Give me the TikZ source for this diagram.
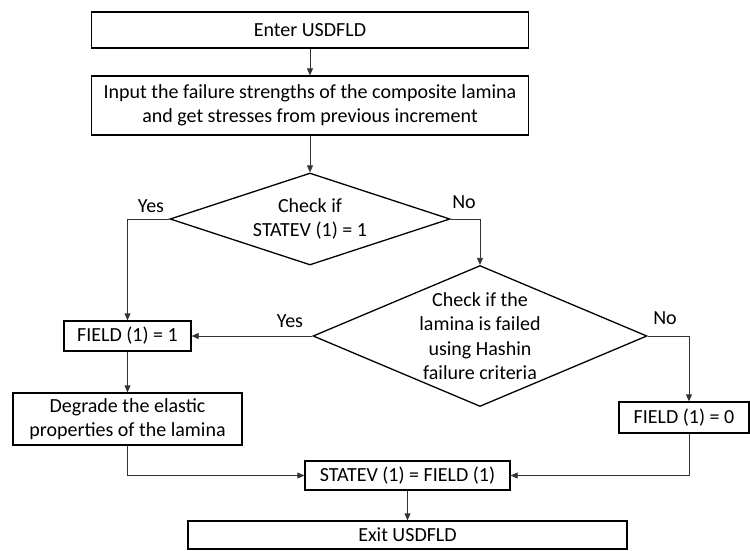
\documentclass[tikz,border=0pt]{standalone}
\usepackage{fontspec}
\setmainfont{Carlito}
\usetikzlibrary{shapes.geometric,arrows.meta}
\begin{document}
\begin{tikzpicture}[x=1pt,y=-1pt,
  txt/.style={font=\fontsize{20}{24.4}\selectfont, align=center},
  box/.style={draw, line width=1.3pt, rectangle, inner sep=0pt, txt},
  decision/.style={draw, line width=1.3pt, diamond, inner sep=0pt},
  arr/.style={draw=black!80, line width=0.8pt, -{Triangle[length=7pt,width=6pt]}},
  lnk/.style={draw=black!80, line width=0.8pt},
  lab/.style={txt, inner sep=0pt}]
\useasboundingbox (0,0) rectangle (750,550);
\fill[white] (0,0) rectangle (750,550);

\node[box, minimum width=437pt, minimum height=36pt] (enter) at (310,30) {Enter USDFLD};
\node[box, minimum width=437pt, minimum height=59pt] (input) at (310,105.5)
  {Input the failure strengths of the composite lamina\\and get stresses from previous increment};
\node[decision, minimum width=280pt, minimum height=92pt,
  label={[txt]center:Check if\\STATEV (1) = 1}] (d1) at (310,219) {};
\node[decision, minimum width=334pt, minimum height=141pt,
  label={[txt]center:Check if the\\lamina is failed\\using Hashin\\failure criteria}] (d2) at (480,336) {};
\node[box, minimum width=127pt, minimum height=30pt] (f1) at (127.5,336) {FIELD (1) = 1};
\node[box, minimum width=229pt, minimum height=52pt] (deg) at (127.5,419)
  {Degrade the elastic\\properties of the lamina};
\node[box, minimum width=130pt, minimum height=31pt] (f0) at (684,417.5) {FIELD (1) = 0};
\node[box, minimum width=205pt, minimum height=29pt] (stv) at (407.5,475.5) {STATEV (1) = FIELD (1)};
\node[box, minimum width=439pt, minimum height=28pt] (exit) at (407.5,535) {Exit USDFLD};

\node[lab] (y1) at (151,206) {Yes};
\node[lab] (n1) at (464,202) {No};
\node[lab] (y2) at (290,321) {Yes};
\node[lab] (n2) at (665,318) {No};

\coordinate (nr) at (689,336);

\draw[arr] (enter) -- (input);
\draw[arr] (input) -- (d1);
\draw[arr] (d1.west) -| (f1.north);
\draw[arr] (d1.east) -| (d2.north);
\draw[arr] (d2.west) -- (d2.west -| f1.east);
\draw[arr] (f1) -- (deg);
\draw[arr] (deg.south) |- (stv.west);
\draw[arr] (d2.east) -- (nr) -- (nr |- f0.north);
\draw[arr] (nr |- f0.south) |- (stv.east);
\draw[arr] (stv) -- (exit);
\end{tikzpicture}
\end{document}
